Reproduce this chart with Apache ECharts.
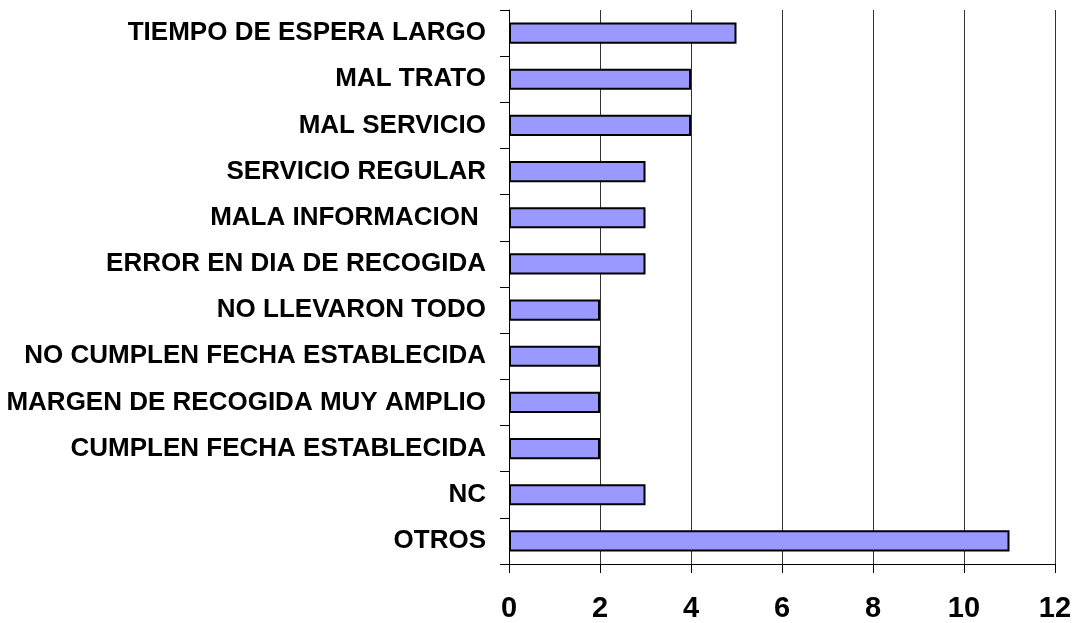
<!DOCTYPE html>
<html><head><meta charset="utf-8">
<script src="https://cdn.jsdelivr.net/npm/echarts@6/dist/echarts.min.js"></script>
<style>html,body{margin:0;padding:0;background:#fff}#c{width:1077px;height:623px}</style>
</head><body><div id="c"></div>
<script>
const categories = ["TIEMPO DE ESPERA LARGO","MAL TRATO","MAL SERVICIO","SERVICIO REGULAR","MALA INFORMACION ","ERROR EN DIA DE RECOGIDA","NO LLEVARON TODO","NO CUMPLEN FECHA ESTABLECIDA","MARGEN DE RECOGIDA MUY AMPLIO","CUMPLEN FECHA ESTABLECIDA","NC","OTROS"];
const values = [5,4,4,3,3,3,2,2,2,2,3,11];
const xTicks = [0,2,4,6,8,10,12];

const chart = echarts.init(document.getElementById('c'));
chart.setOption({
  animation:false,
  grid:{left:509,right:22,top:10,bottom:59,containLabel:false},
  xAxis:{type:'value',min:0,max:12,interval:2,
    axisLine:{show:true,lineStyle:{color:'#000',width:1}},
    axisTick:{show:true,length:9,lineStyle:{color:'#000'}},
    splitLine:{show:true,lineStyle:{color:'#333',width:1}},
    axisLabel:{color:'#000',fontFamily:'Liberation Sans, Arial',fontWeight:'bold',fontSize:29,margin:30,
      formatter:v=>xTicks.includes(v)?String(v):''}
  },
  yAxis:{type:'category',inverse:true,data:categories,
    axisLine:{show:true,lineStyle:{color:'#000',width:1}},
    axisTick:{show:true,length:9,lineStyle:{color:'#000'}},
    axisLabel:{color:'#000',fontFamily:'Liberation Sans, Arial',fontWeight:'bold',fontSize:26,margin:23}
  },
  series:[{type:'bar',data:values,barCategoryGap:'54%',
    itemStyle:{color:'#9999ff',borderColor:'#000',borderWidth:2}}]
});
</script></body></html>
